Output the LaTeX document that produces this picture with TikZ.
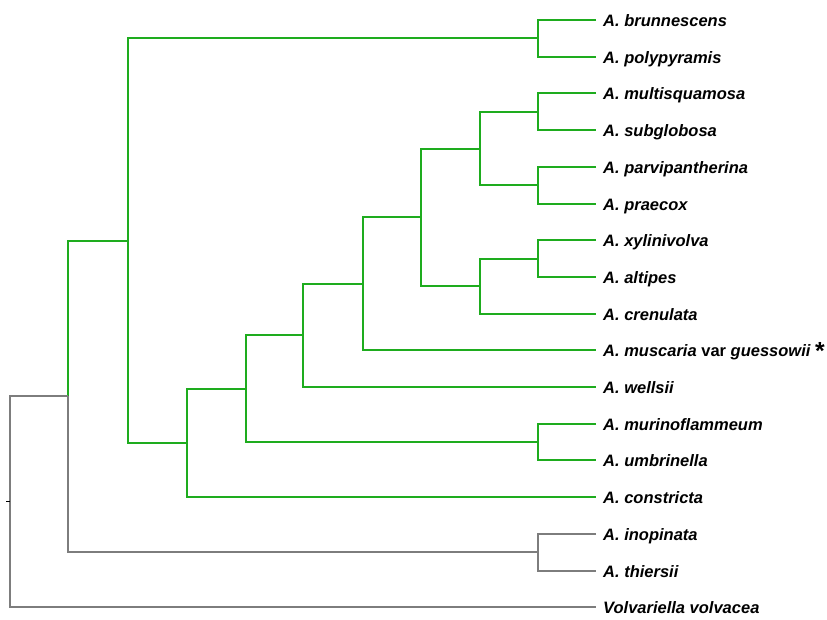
\documentclass[tikz,border=0pt]{standalone}
\usepackage{fontspec}
\setmainfont{Liberation Sans}
\usepackage{tikz}

\definecolor{cladegreen}{RGB}{30,172,30}
\definecolor{outgray}{RGB}{125,125,125}

\begin{document}
\begin{tikzpicture}[x=1pt,y=-1pt,
  leaf/.style={anchor=west,inner xsep=7pt,inner ysep=0pt,text height=13pt,text depth=0pt,
    font=\fontsize{16.5}{18}\selectfont\bfseries\itshape},
  grn/.style={draw=cladegreen,line width=2pt},
  gry/.style={draw=outgray,line width=2pt}]
\useasboundingbox (0,0) rectangle (827,619);
\foreach \nm/\txt [count=\i from 0] in {bru/A. brunnescens, pol/A. polypyramis, mul/A. multisquamosa,
  sub/A. subglobosa, par/A. parvipantherina, pra/A. praecox, xyl/A. xylinivolva, alt/A. altipes,
  cre/A. crenulata, mus/{A. muscaria \textup{var} guessowii \raisebox{-3pt}{\scalebox{1.5}{\upshape*}}}, wel/A. wellsii,
  mur/A. murinoflammeum, umb/A. umbrinella, con/A. constricta, ino/A. inopinata, thi/A. thiersii,
  vol/Volvariella volvacea}
  {\node[leaf] (\nm) at (596,20+36.7*\i) {\txt};}
% internal nodes
\coordinate (brpo) at (538,38.4);
\coordinate (musu) at (538,111.8);
\coordinate (papr) at (538,185.2);
\coordinate (xyal) at (538,258.6);
\coordinate (muum) at (538,442.1);
\coordinate (inth) at (538,552.2);
\coordinate (crown) at (480,148.5);
\coordinate (xyac) at (480,286.1);
\coordinate (g6) at (421,217.3);
\coordinate (g5) at (363,283.8);
\coordinate (g4) at (303,335.4);
\coordinate (g3) at (245.5,388.75);
\coordinate (g2) at (187,442.9);
\coordinate (amcl) at (128,240.65);
\coordinate (ingrp) at (68,396.4);
\coordinate (root) at (10,501.8);
% green clade
\draw[grn] (bru.west) -| (brpo) |- (pol.west);
\draw[grn] (mul.west) -| (musu) |- (sub.west);
\draw[grn] (par.west) -| (papr) |- (pra.west);
\draw[grn] (xyl.west) -| (xyal) |- (alt.west);
\draw[grn] (mur.west) -| (muum) |- (umb.west);
\draw[grn] (musu) -| (crown) |- (papr);
\draw[grn] (xyal) -| (xyac) |- (cre.west);
\draw[grn] (crown) -| (g6) |- (xyac);
\draw[grn] (g6) -| (g5) |- (mus.west);
\draw[grn] (g5) -| (g4) |- (wel.west);
\draw[grn] (g4) -| (g3) |- (muum);
\draw[grn] (g3) -| (g2) |- (con.west);
\draw[grn] (brpo) -| (amcl) |- (g2);
\draw[grn] (amcl) -| (ingrp);
% outgroups
\draw[gry] (ino.west) -| (inth) |- (thi.west);
\draw[gry] (ingrp) |- (inth);
\draw[gry] (ingrp) -| (root) |- (vol.west);
\draw[line width=1.2pt] (root) -- ++(-4,0);
\end{tikzpicture}
\end{document}
